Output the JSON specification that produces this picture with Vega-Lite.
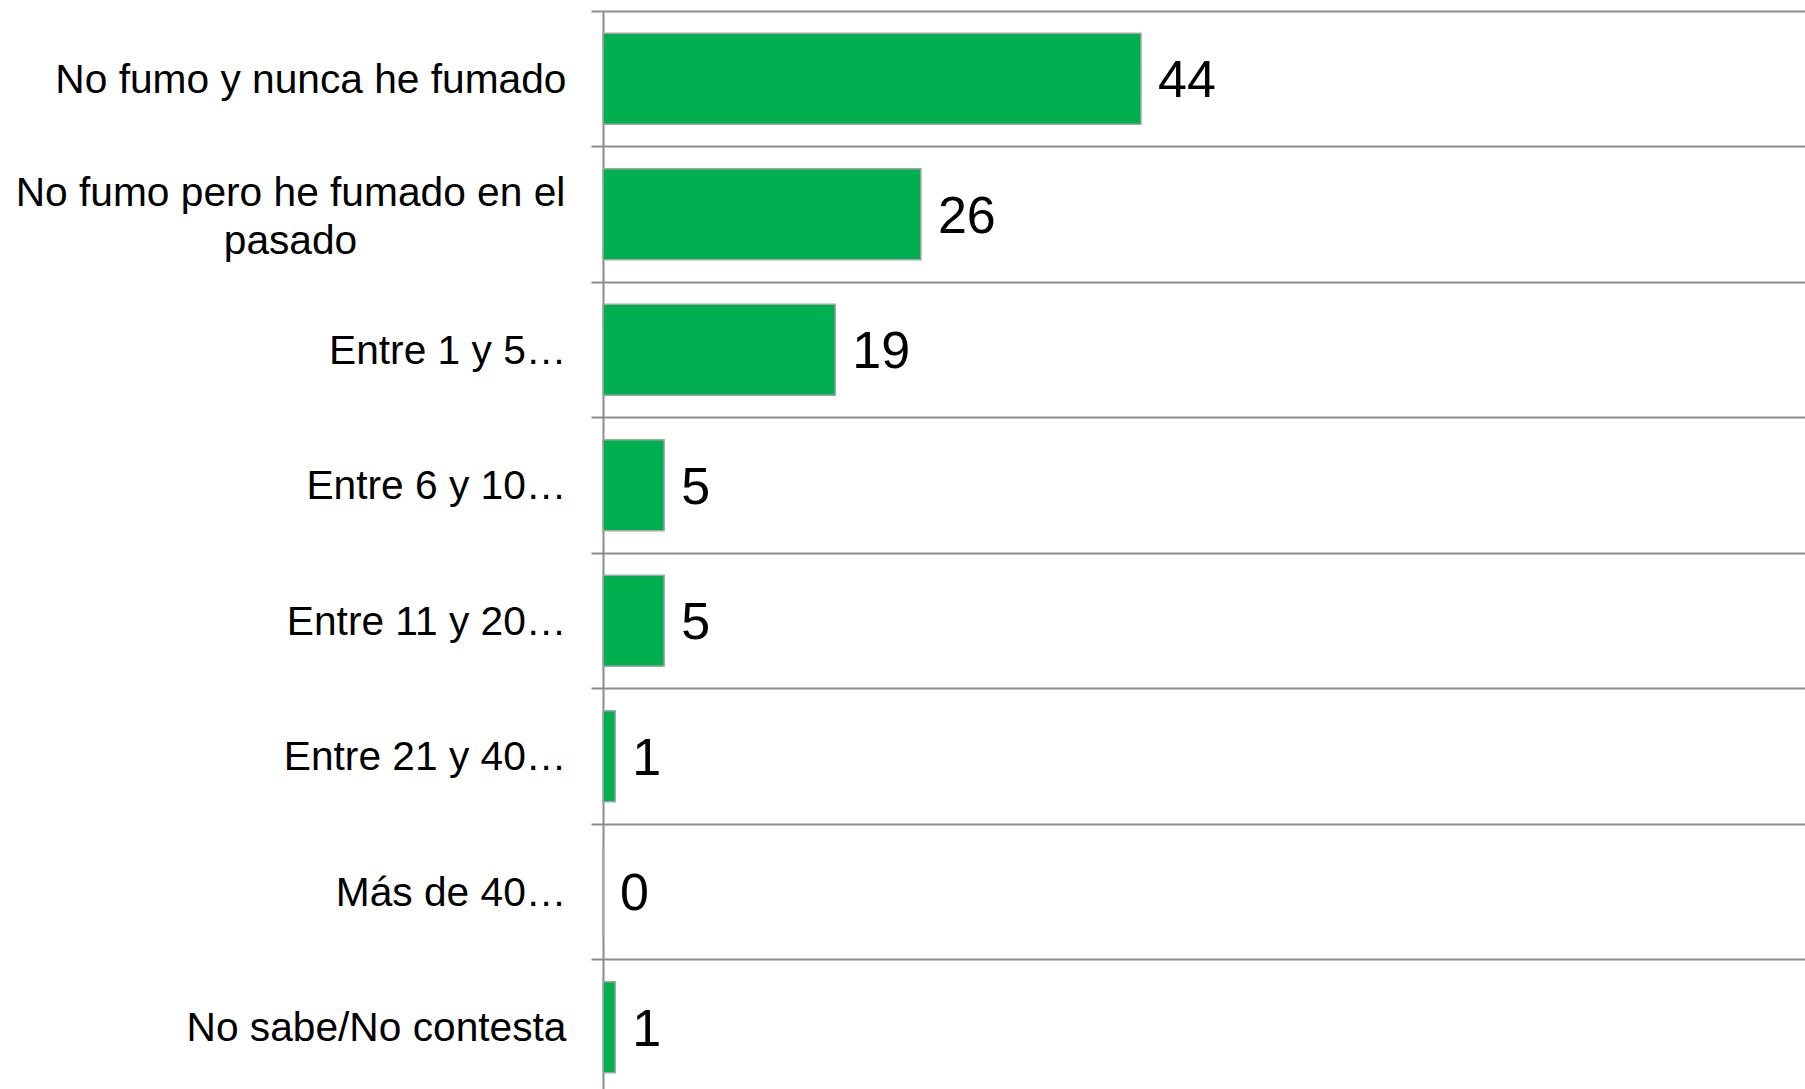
{
  "$schema": "https://vega.github.io/schema/vega-lite/v6.json",
  "autosize": "none",
  "padding": {"left": 603, "top": 11, "right": 0, "bottom": 0},
  "width": 1202,
  "height": 1084,
  "background": "white",
  "config": {"view": {"stroke": null}},
  "data": {"values": [
    {"categoria": "No fumo y nunca he fumado", "valor": 44},
    {"categoria": "No fumo pero he fumado en el pasado", "valor": 26},
    {"categoria": "Entre 1 y 5…", "valor": 19},
    {"categoria": "Entre 6 y 10…", "valor": 5},
    {"categoria": "Entre 11 y 20…", "valor": 5},
    {"categoria": "Entre 21 y 40…", "valor": 1},
    {"categoria": "Más de 40…", "valor": 0},
    {"categoria": "No sabe/No contesta", "valor": 1}
  ]},
  "encoding": {
    "y": {
      "field": "categoria",
      "type": "nominal",
      "sort": null,
      "scale": {"paddingInner": 0, "paddingOuter": 0},
      "axis": {
        "title": null,
        "bandPosition": 0,
        "grid": true,
        "gridColor": "#8c8c8c",
        "gridWidth": 2,
        "domainColor": "#8c8c8c",
        "domainWidth": 2,
        "tickColor": "#8c8c8c",
        "tickWidth": 2,
        "tickSize": 12,
        "labelFont": "Liberation Sans",
        "labelFontSize": 40.7,
        "labelColor": "#000000",
        "labelLimit": 700,
        "labelLineHeight": 48,
        "labelExpr": "datum.value === 'No fumo pero he fumado en el pasado' ? ['No fumo pero he fumado en el', 'pasado'] : datum.value",
        "labelAlign": {"condition": {"test": "datum.value === 'No fumo pero he fumado en el pasado'", "value": "center"}, "value": "right"},
        "labelPadding": {"condition": {"test": "datum.value === 'No fumo pero he fumado en el pasado'", "value": 301}, "value": 25},
        "labelOffset": {"condition": {"test": "datum.value === 'No fumo pero he fumado en el pasado'", "value": -20}, "value": 2}
      }
    },
    "x": {
      "field": "valor",
      "type": "quantitative",
      "scale": {"domain": [0, 98.3], "nice": false},
      "axis": null
    }
  },
  "layer": [
    {
      "mark": {"type": "bar", "height": {"band": 0.67}, "color": "#00B050", "stroke": "#a6a6a6", "strokeWidth": 1.5}
    },
    {
      "mark": {"type": "text", "align": "left", "baseline": "middle", "dx": 17, "dy": 2.5, "font": "Liberation Sans", "fontSize": 52, "color": "#000000"},
      "encoding": {"text": {"field": "valor", "type": "quantitative"}}
    }
  ]
}
